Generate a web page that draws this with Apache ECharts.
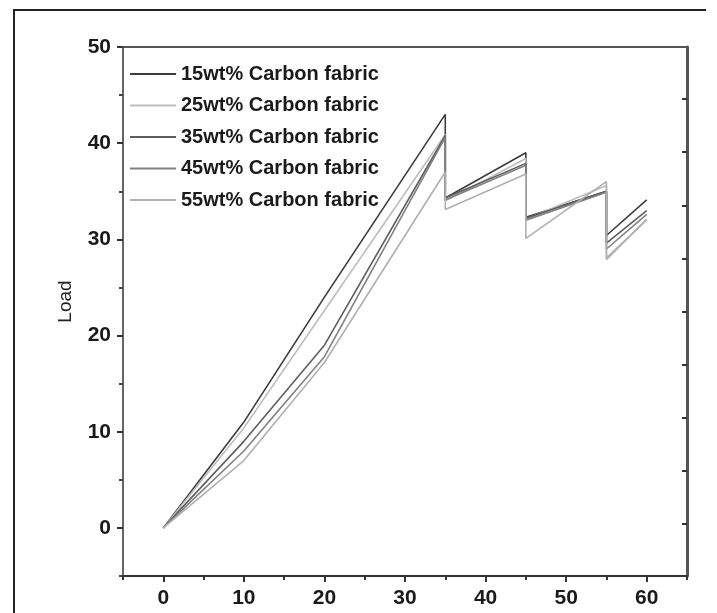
<!DOCTYPE html>
<html>
<head>
<meta charset="utf-8">
<script src="https://cdn.jsdelivr.net/npm/echarts@6/dist/echarts.min.js"></script>
<style>html,body{margin:0;padding:0;background:#fff;}#c{width:717px;height:613px;}</style>
</head>
<body>
<div id="c"></div>
<script>
const xValues = [0, 10, 20, 35, 35, 45, 45, 55, 55, 60];
const seriesNames = ['15wt% Carbon fabric', '25wt% Carbon fabric', '35wt% Carbon fabric', '45wt% Carbon fabric', '55wt% Carbon fabric'];
const load15 = [0, 11.0, 24.0, 43.0, 34.3, 39.0, 32.3, 35.0, 30.4, 34.1];
const load25 = [0, 10.4, 22.6, 40.9, 34.0, 38.4, 32.1, 35.6, 28.1, 32.0];
const load35 = [0, 9.0, 19.0, 40.8, 34.3, 37.9, 32.2, 35.0, 29.6, 33.0];
const load45 = [0, 8.0, 17.8, 40.6, 34.1, 37.7, 32.0, 34.9, 29.0, 32.6];
const load55 = [0, 7.0, 17.2, 37.0, 33.1, 36.8, 30.1, 36.0, 27.9, 32.1];
const seriesValues = [load15, load25, load35, load45, load55];
const seriesColors = ['#3c3c3c', '#bdbdbd', '#5e5e5e', '#808080', '#b0b0b0'];
const yTickLabels = [0, 10, 20, 30, 40, 50];
const yMinorTicks = [-5, 5, 15, 25, 35, 45];
const xTickLabels = [0, 10, 20, 30, 40, 50, 60];
const xMinorTicks = [-5, 5, 15, 25, 35, 45, 55, 65];
const rightTicks = [0.42, 5.94, 11.46, 16.98, 22.5, 28.02, 33.54, 39.06, 44.58];

const FONT = "'Liberation Sans Narrow', 'Liberation Sans', Arial, sans-serif";
const chart = echarts.init(document.getElementById('c'), null, {renderer: 'canvas'});

const series = seriesNames.map((name, i) => ({
  name: name,
  type: 'line',
  xAxisIndex: 0,
  yAxisIndex: 0,
  symbol: 'none',
  lineStyle: {color: seriesColors[i], width: 1.6},
  itemStyle: {color: seriesColors[i]},
  data: xValues.map((x, j) => [x, seriesValues[i][j]]),
  z: 3
}));

chart.setOption({
  animation: false,
  backgroundColor: '#fff',
  grid: {left: 123, right: 30, top: 47, bottom: 37, containLabel: false},
  legend: {
    orient: 'vertical',
    left: 125,
    top: 58,
    itemWidth: 46,
    itemHeight: 12,
    itemGap: 9.5,
    icon: 'path://M0,5L46,5L46,7L0,7Z',
    textStyle: {fontFamily: FONT, fontSize: 20, fontWeight: 'bold', color: '#1a1a1a', lineHeight: 22},
    data: seriesNames.map((n, i) => ({name: n, itemStyle: {color: seriesColors[i]}}))
  },
  xAxis: [
    {
      type: 'value', min: -5, max: 65, position: 'bottom',
      axisLine: {show: true, onZero: false, lineStyle: {color: '#333', width: 2}},
      axisTick: {show: true, customValues: xTickLabels, length: 6, lineStyle: {color: '#333', width: 2}},
      axisLabel: {customValues: xTickLabels, fontFamily: FONT, fontSize: 21, fontWeight: 'bold', color: '#1a1a1a', margin: 12},
      splitLine: {show: false}
    },
    {
      type: 'value', min: -5, max: 65, position: 'bottom',
      axisLine: {show: false, onZero: false},
      axisTick: {show: true, customValues: xMinorTicks, length: 4, lineStyle: {color: '#333', width: 2}},
      axisLabel: {show: false},
      splitLine: {show: false}
    },
    {
      type: 'value', min: -5, max: 65, position: 'top',
      axisLine: {show: true, onZero: false, lineStyle: {color: '#555', width: 2}},
      axisTick: {show: false},
      axisLabel: {show: false},
      splitLine: {show: false}
    }
  ],
  yAxis: [
    {
      type: 'value', min: -5, max: 50, position: 'left',
      name: 'Load', nameLocation: 'middle', nameGap: 48, nameRotate: 90,
      nameTextStyle: {fontFamily: "'Liberation Sans', Arial, sans-serif", fontSize: 19, color: '#222', padding: [0, 0, 0, 20]},
      axisLine: {show: true, onZero: false, lineStyle: {color: '#666', width: 2}},
      axisTick: {show: true, customValues: yTickLabels, length: 6, lineStyle: {color: '#333', width: 2}},
      axisLabel: {customValues: yTickLabels, fontFamily: FONT, fontSize: 21, fontWeight: 'bold', color: '#1a1a1a', margin: 12},
      splitLine: {show: false}
    },
    {
      type: 'value', min: -5, max: 50, position: 'left',
      axisLine: {show: false, onZero: false},
      axisTick: {show: true, customValues: yMinorTicks, length: 4, lineStyle: {color: '#444', width: 2}},
      axisLabel: {show: false},
      splitLine: {show: false}
    },
    {
      type: 'value', min: -5, max: 50, position: 'right',
      axisLine: {show: true, onZero: false, lineStyle: {color: '#555', width: 3}},
      axisTick: {show: true, inside: true, customValues: rightTicks, length: 5, lineStyle: {color: '#333', width: 2}},
      axisLabel: {show: false},
      splitLine: {show: false}
    }
  ],
  graphic: [
    {type: 'line', shape: {x1: 14, y1: 10, x2: 14, y2: 613}, style: {stroke: '#222', lineWidth: 2}},
    {type: 'line', shape: {x1: 13, y1: 10, x2: 706, y2: 10}, style: {stroke: '#222', lineWidth: 2}}
  ],
  series: series
});
</script>
</body>
</html>
